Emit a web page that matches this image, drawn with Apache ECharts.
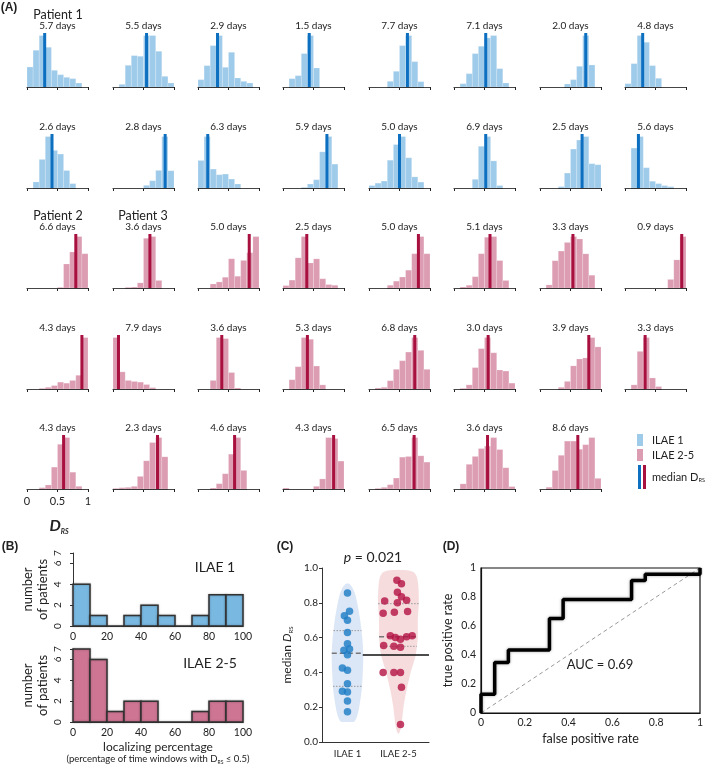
<!DOCTYPE html>
<html>
<head>
<meta charset="utf-8">
<script src="https://cdn.jsdelivr.net/npm/echarts@6/dist/echarts.min.js"></script>
<style>
  html, body { margin: 0; padding: 0; background: #fff; }
  #main { width: 709px; height: 768px; }
</style>
</head>
<body>
<div id="main"></div>
<script>
// ---- panel A: D_RS histograms, 10 bins on 0..1 (heights, relative units)
const binEdges = [0, 0.1, 0.2, 0.3, 0.4, 0.5, 0.6, 0.7, 0.8, 0.9, 1.0];

const ilae1Days = ['5.7', '5.5', '2.9', '1.5', '7.7', '7.1', '2.0', '4.8',
                   '2.6', '2.8', '6.3', '5.9', '5.0', '6.9', '2.5', '5.6'];
const ilae1Median = [0.29, 0.55, 0.32, 0.43, 0.63, 0.52, 0.75, 0.29,
                     0.41, 0.855, 0.16, 0.72, 0.50, 0.52, 0.69, 0.22];
const ilae1Hist = [
  [60, 110, 154, 119, 50, 37, 29, 25, 12, 0],
  [0, 8, 65, 94, 92, 154, 154, 107, 32, 12],
  [22, 64, 124, 154, 59, 104, 27, 17, 12, 0],
  [0, 25, 34, 100, 154, 57, 0, 0, 0, 0],
  [0, 0, 0, 17, 47, 124, 154, 76, 16, 0],
  [0, 10, 40, 100, 122, 147, 154, 55, 12, 0],
  [0, 0, 0, 0, 9, 22, 62, 154, 66, 0],
  [10, 70, 154, 134, 64, 26, 0, 0, 0, 0],
  [0, 18, 85, 153, 112, 101, 52, 13, 0, 0],
  [0, 0, 0, 0, 0, 8, 22, 53, 155, 52],
  [83, 155, 57, 40, 42, 27, 12, 0, 0, 0],
  [0, 0, 0, 2, 12, 25, 109, 155, 72, 0],
  [7, 14, 20, 80, 125, 148, 87, 32, 17, 0],
  [0, 0, 0, 25, 120, 148, 78, 7, 0, 0],
  [0, 0, 0, 4, 43, 112, 138, 148, 70, 67],
  [0, 118, 152, 60, 20, 13, 7, 4, 0, 0]
];

const ilae25Days = ['6.6', '3.6', '5.0', '2.5', '5.0', '5.1', '3.3', '0.9',
                    '4.3', '7.9', '3.6', '5.3', '6.8', '3.0', '3.9', '3.3',
                    '4.3', '2.3', '4.6', '4.3', '6.5', '3.6', '8.6'];
const ilae25Median = [0.80, 0.605, 0.84, 0.39, 0.81, 0.59, 0.54, 0.93,
                      0.90, 0.09, 0.39, 0.40, 0.75, 0.56, 0.80, 0.33,
                      0.60, 0.73, 0.60, 0.83, 0.74, 0.55, 0.62];
const ilae25Hist = [
  [0, 0, 0, 0, 0, 2, 70, 105, 150, 100],
  [0, 0, 2, 3, 15, 145, 150, 22, 0, 0],
  [0, 0, 12, 18, 32, 87, 35, 82, 105, 153],
  [7, 23, 88, 150, 73, 85, 27, 10, 8, 0],
  [0, 0, 0, 8, 20, 32, 52, 100, 150, 100],
  [0, 3, 8, 33, 100, 148, 150, 80, 22, 0],
  [0, 9, 79, 107, 132, 149, 142, 99, 37, 0],
  [0, 0, 0, 0, 0, 0, 0, 25, 82, 150],
  [0, 0, 2, 5, 10, 20, 17, 25, 40, 150],
  [150, 50, 25, 22, 20, 13, 4, 0, 0, 0],
  [0, 0, 25, 150, 147, 48, 3, 0, 0, 0],
  [0, 27, 65, 150, 145, 67, 12, 0, 0, 0],
  [0, 3, 5, 24, 57, 82, 107, 149, 112, 57],
  [0, 2, 12, 62, 117, 149, 105, 55, 52, 17],
  [0, 0, 0, 5, 22, 67, 87, 90, 149, 122],
  [0, 12, 109, 149, 32, 7, 0, 0, 0, 0],
  [0, 0, 4, 12, 65, 133, 153, 50, 8, 0],
  [2, 4, 5, 8, 38, 85, 140, 155, 97, 0],
  [0, 0, 3, 16, 46, 105, 155, 56, 0, 0],
  [3, 0, 0, 0, 0, 8, 30, 153, 150, 83],
  [0, 2, 5, 13, 33, 96, 98, 155, 100, 81],
  [0, 15, 72, 95, 118, 125, 150, 115, 62, 7],
  [0, 5, 52, 95, 135, 135, 112, 125, 145, 30]
];

// ---- panel B: localizing percentage histograms
const locEdges = [0, 10, 20, 30, 40, 50, 60, 70, 80, 90, 100];
const locIlae1 = [4, 1, 0, 1, 2, 1, 0, 1, 3, 3];
const locIlae25 = [7, 6, 1, 2, 2, 0, 0, 1, 2, 2];

// ---- panel C: median D_RS per patient (x jitter in group units)
const medIlae1 = [0.856, 0.751, 0.726, 0.699, 0.630, 0.565, 0.534, 0.527,
                  0.502, 0.425, 0.412, 0.335, 0.291, 0.287, 0.236, 0.174];
const jitIlae1 = [0, 0.04, -0.06, 0, 0, 0, 0.04, -0.07,
                  0, -0.1, 0, 0, -0.1, 0, 0, 0];
const medIlae25 = [0.93, 0.91, 0.86, 0.835, 0.81, 0.80, 0.815, 0.75, 0.74, 0.745,
                   0.61, 0.60, 0.59, 0.605, 0.61, 0.555, 0.55, 0.545,
                   0.40, 0.40, 0.40, 0.315, 0.10];
const jitIlae25 = [-0.03, 0.06, -0.02, 0.06, -0.27, -0.02, 0.16, 0.18, -0.3, -0.08,
                   -0.16, -0.06, 0.04, 0.16, 0.27, -0.29, -0.09, 0.04,
                   -0.3, -0.09, 0.04, 0.06, 0.04];
// violin outlines: [D_RS, half width]
const violinIlae1 = [[0.115, 0], [0.117, 0.13], [0.15, 0.19], [0.2, 0.23], [0.3, 0.28],
  [0.4, 0.30], [0.5, 0.31], [0.6, 0.29], [0.7, 0.25], [0.8, 0.19], [0.85, 0.15],
  [0.88, 0.11], [0.905, 0.05], [0.912, 0]];
const violinIlae25 = [[0.045, 0], [0.06, 0.03], [0.1, 0.06], [0.2, 0.1], [0.3, 0.16],
  [0.4, 0.24], [0.5, 0.34], [0.6, 0.38], [0.7, 0.38], [0.8, 0.4], [0.9, 0.39],
  [0.95, 0.36], [0.975, 0.3], [0.985, 0.2], [0.99, 0]];
const quartIlae1 = [0.32, 0.51, 0.64];
const quartIlae25 = [0.55, 0.605, 0.795];

// ---- panel D: ROC curve
const rocFpr = [0, 0, 0.0625, 0.0625, 0.125, 0.125, 0.3125, 0.3125, 0.375, 0.375,
                0.6875, 0.6875, 0.75, 0.75, 1, 1];
const rocTpr = [0, 0.13, 0.13, 0.348, 0.348, 0.435, 0.435, 0.652, 0.652, 0.783,
                0.783, 0.913, 0.913, 0.957, 0.957, 1];

const FONT = 'Lato, "Open Sans", sans-serif';
const TXT = '#222';
const BLUE_BAR = '#9fcbea', BLUE_MED = '#0d6fc0';
const PINK_BAR = '#dc9cb2', PINK_MED = '#a8103f';

const chart = echarts.init(document.getElementById('main'));

const grids = [], xAxes = [], yAxes = [], series = [], graphics = [];

function label(x, y, text, size, opts) {
  graphics.push({
    type: 'text', x: x, y: y, silent: true,
    style: Object.assign({
      text: text, fill: TXT, font: size + 'px ' + FONT,
      align: 'center', verticalAlign: 'middle'
    }, opts || {})
  });
}

function rectItem(params, api) {
  const a = api.coord([api.value(0), api.value(2)]);
  const b = api.coord([api.value(1), 0]);
  return {
    type: 'rect',
    shape: { x: a[0], y: a[1], width: b[0] - a[0], height: b[1] - a[1] },
    style: api.style()
  };
}

// ---------- panel A ----------
const colLeft = [27, 113, 198, 283, 369, 454, 540, 625];
const rowBase = [87, 188, 288, 389, 489];
const cellW = 61, cellH = 54;

const panels = [];
ilae1Hist.forEach((h, i) => panels.push({ hist: h, med: ilae1Median[i], days: ilae1Days[i], bar: BLUE_BAR, line: BLUE_MED }));
ilae25Hist.forEach((h, i) => panels.push({ hist: h, med: ilae25Median[i], days: ilae25Days[i], bar: PINK_BAR, line: PINK_MED }));

panels.forEach((p, k) => {
  const row = Math.floor(k / 8), col = k % 8;
  const g = grids.length;
  const ymax = Math.max.apply(null, p.hist) * 1.05;
  grids.push({ left: colLeft[col], top: rowBase[row] - cellH, width: cellW, height: cellH });
  xAxes.push({
    gridIndex: g, type: 'value', min: 0, max: 1, interval: 0.5,
    axisLine: { show: true, lineStyle: { color: '#222', width: 1 } },
    axisTick: { show: true, length: 3, lineStyle: { color: '#222' } },
    axisLabel: { show: k === 32, fontSize: 11, color: TXT, fontFamily: FONT, margin: 7 },
    splitLine: { show: false }
  });
  yAxes.push({ gridIndex: g, type: 'value', min: 0, max: ymax, show: false });
  series.push({
    type: 'custom', xAxisIndex: g, yAxisIndex: g, renderItem: rectItem,
    itemStyle: { color: p.bar, borderColor: 'rgba(255,255,255,0.35)', borderWidth: 0.5 },
    encode: { x: [0, 1], y: 2 },
    data: p.hist.map((h, i) => [binEdges[i], binEdges[i + 1], h])
  });
  series.push({
    type: 'line', xAxisIndex: g, yAxisIndex: g, symbol: 'none', z: 3,
    lineStyle: { color: p.line, width: 3 },
    data: [[p.med, 0], [p.med, ymax]]
  });
  label(colLeft[col] + cellW / 2, rowBase[row] - 61, p.days + ' days', 10);
});

label(58, 15, 'Patient 1', 12.5);
label(58, 216, 'Patient 2', 12.5);
label(143, 216, 'Patient 3', 12.5);
label(9, 8, '(A)', 12, { font: 'bold 12px Arial, sans-serif' });

graphics.push({
  type: 'text', x: 59, y: 526, silent: true,
  style: {
    text: '{d|D}{s|RS}', align: 'center', verticalAlign: 'middle',
    rich: {
      d: { fontSize: 16, fontWeight: 'bold', fontStyle: 'italic', fontFamily: FONT, fill: TXT, lineHeight: 18 },
      s: { fontSize: 7, fontWeight: 'bold', fontStyle: 'italic', fontFamily: FONT, fill: TXT, lineHeight: 7, verticalAlign: 'bottom' }
    }
  }
});

// legend
graphics.push({ type: 'rect', shape: { x: 637, y: 434, width: 6, height: 12 }, style: { fill: BLUE_BAR }, silent: true });
graphics.push({ type: 'rect', shape: { x: 637, y: 449, width: 6, height: 12 }, style: { fill: PINK_BAR }, silent: true });
graphics.push({ type: 'rect', shape: { x: 638, y: 465, width: 3, height: 24 }, style: { fill: BLUE_MED }, silent: true });
graphics.push({ type: 'rect', shape: { x: 643, y: 465, width: 3, height: 24 }, style: { fill: PINK_MED }, silent: true });
label(652, 440, 'ILAE 1', 11, { align: 'left' });
label(652, 455, 'ILAE 2-5', 11, { align: 'left' });
graphics.push({
  type: 'text', x: 652, y: 477, silent: true,
  style: {
    text: '{m|median D}{s|RS}', align: 'left', verticalAlign: 'middle',
    rich: {
      m: { fontSize: 11, fontFamily: FONT, fill: TXT, lineHeight: 13 },
      s: { fontSize: 5.5, fontFamily: FONT, fill: TXT, lineHeight: 6, verticalAlign: 'bottom' }
    }
  }
});

// ---------- panel B ----------
function locPanel(top, counts, fill, name, nameX) {
  const g = grids.length;
  grids.push({ left: 73, top: top, width: 170, height: 73 });
  xAxes.push({
    gridIndex: g, type: 'value', min: 0, max: 100, interval: 20,
    axisLine: { show: true, lineStyle: { color: '#333', width: 1 } },
    axisTick: { show: false },
    axisLabel: { fontSize: 10.5, color: TXT, fontFamily: FONT, margin: 5 },
    splitLine: { show: false }
  });
  yAxes.push({
    gridIndex: g, type: 'value', min: 0, max: 7, interval: 2, offset: 6,
    axisLine: { show: true, lineStyle: { color: '#333', width: 1 } },
    axisTick: { show: true, length: 3, lineStyle: { color: '#333' } },
    axisLabel: { fontSize: 10, color: TXT, fontFamily: FONT, rotate: 90, margin: 4 },
    splitLine: { show: false },
    name: 'number\nof patients', nameLocation: 'middle', nameRotate: 90, nameGap: 17,
    nameTextStyle: { fontSize: 13, color: TXT, fontFamily: FONT, lineHeight: 15 }
  });
  series.push({
    type: 'custom', xAxisIndex: g, yAxisIndex: g, renderItem: rectItem,
    itemStyle: { color: fill, borderColor: '#333', borderWidth: 1.5, shadowColor: 'rgba(0,0,0,0.3)', shadowBlur: 2 },
    encode: { x: [0, 1], y: 2 },
    data: counts.map((c, i) => [locEdges[i], locEdges[i + 1], c])
  });
  label(nameX, top + 14, name, 14);
}
locPanel(553, locIlae1, '#79b8e0', 'ILAE 1', 215);
locPanel(649, locIlae25, '#cd7592', 'ILAE 2-5', 210);
label(10, 547, '(B)', 12, { font: 'bold 12px Arial, sans-serif' });
label(158, 747, 'localizing percentage', 12);
graphics.push({
  type: 'text', x: 158, y: 759, silent: true,
  style: {
    text: '{n|(percentage of time windows with D}{s|RS}{n| \u2264 0.5)}', align: 'center', verticalAlign: 'middle',
    rich: {
      n: { fontSize: 9.5, fontFamily: FONT, fill: TXT, lineHeight: 12 },
      s: { fontSize: 5, fontFamily: FONT, fill: TXT, lineHeight: 5, verticalAlign: 'bottom' }
    }
  }
});

// ---------- panel C ----------
function interpWidth(profile, y) {
  for (let i = 1; i < profile.length; i++) {
    if (y <= profile[i][0]) {
      const a = profile[i - 1], b = profile[i];
      return a[1] + (b[1] - a[1]) * (y - a[0]) / (b[0] - a[0]);
    }
  }
  return 0;
}
function violinRender(profile, fill) {
  return function (params, api) {
    const c = api.value(0);
    const pts = profile.map(p => api.coord([c + p[1], p[0]]));
    for (let i = profile.length - 1; i >= 0; i--) pts.push(api.coord([c - profile[i][1], profile[i][0]]));
    return { type: 'polygon', shape: { points: pts, smooth: 0.25 }, style: { fill: fill } };
  };
}
function hlineRender(params, api) {
  const c = api.value(0), y = api.value(1), w = api.value(2);
  const a = api.coord([c - w, y]), b = api.coord([c + w, y]);
  const dashed = api.value(3) === 1;
  return {
    type: 'line', shape: { x1: a[0], y1: a[1], x2: b[0], y2: b[1] },
    style: { stroke: dashed ? '#777' : '#999', lineWidth: dashed ? 1.3 : 1, lineDash: dashed ? [5, 3] : [1.5, 1.5] }
  };
}
const gC = grids.length;
grids.push({ left: 322, top: 568, width: 107, height: 174 });
xAxes.push({
  gridIndex: gC, type: 'value', min: 0.5, max: 2.6, interval: 0.5,
  axisLine: { show: true, lineStyle: { color: '#333', width: 1 } },
  axisTick: { show: false },
  axisLabel: { fontSize: 9.5, color: TXT, fontFamily: FONT, margin: 7,
    formatter: v => (v === 1 ? 'ILAE 1' : v === 2 ? 'ILAE 2-5' : '') },
  splitLine: { show: false }
});
yAxes.push({
  gridIndex: gC, type: 'value', min: 0, max: 1, interval: 0.2,
  axisLine: { show: true, lineStyle: { color: '#333', width: 1 } },
  axisTick: { show: true, length: 3, lineStyle: { color: '#333' } },
  axisLabel: { fontSize: 10, color: TXT, fontFamily: FONT, margin: 4, formatter: v => v.toFixed(1) },
  splitLine: { show: false },
  name: '{m|median }{d|D}{s|RS}', nameLocation: 'middle', nameRotate: 90, nameGap: 28,
  nameTextStyle: {
    rich: {
      m: { fontSize: 12, fontFamily: FONT, color: TXT, lineHeight: 14 },
      d: { fontSize: 12, fontFamily: FONT, color: TXT, fontStyle: 'italic', lineHeight: 14 },
      s: { fontSize: 6, fontFamily: FONT, color: TXT, lineHeight: 6, verticalAlign: 'bottom' }
    }
  }
});
series.push({ type: 'custom', xAxisIndex: gC, yAxisIndex: gC, z: 1, renderItem: violinRender(violinIlae1, '#dbe6f6'), data: [[1, 0.5]] });
series.push({ type: 'custom', xAxisIndex: gC, yAxisIndex: gC, z: 1, renderItem: violinRender(violinIlae25, '#f6dcdd'), data: [[2, 0.5]] });
series.push({
  type: 'line', xAxisIndex: gC, yAxisIndex: gC, z: 2, symbol: 'none',
  lineStyle: { color: '#111', width: 1.5 }, data: [[1.3, 0.5], [2.6, 0.5]]
});
series.push({
  type: 'custom', xAxisIndex: gC, yAxisIndex: gC, z: 3, renderItem: hlineRender,
  data: quartIlae1.map((q, i) => [1, q, interpWidth(violinIlae1, q), i === 1 ? 1 : 0])
    .concat(quartIlae25.map((q, i) => [2, q, interpWidth(violinIlae25, q), i === 1 ? 1 : 0]))
});
series.push({
  type: 'scatter', xAxisIndex: gC, yAxisIndex: gC, z: 4, symbolSize: 7.5,
  itemStyle: { color: '#1b7cc5' },
  data: medIlae1.map((v, i) => [1 + jitIlae1[i], v])
});
series.push({
  type: 'scatter', xAxisIndex: gC, yAxisIndex: gC, z: 4, symbolSize: 7.5,
  itemStyle: { color: '#b41244' },
  data: medIlae25.map((v, i) => [2 + jitIlae25[i], v])
});
label(285, 547, '(C)', 12, { font: 'bold 12px Arial, sans-serif' });
graphics.push({
  type: 'text', x: 373, y: 557, silent: true,
  style: {
    text: '{i|p}{n| = 0.021}', align: 'center', verticalAlign: 'middle',
    rich: {
      i: { fontSize: 14, fontStyle: 'italic', fontFamily: FONT, fill: TXT },
      n: { fontSize: 14, fontFamily: FONT, fill: TXT }
    }
  }
});

// ---------- panel D ----------
const gD = grids.length;
grids.push({ left: 481, top: 568, width: 219, height: 145, show: true, borderColor: '#111', borderWidth: 1.2 });
const rocFmt = v => (v === 0 || v === 1 ? String(v) : v.toFixed(1));
xAxes.push({
  gridIndex: gD, type: 'value', min: 0, max: 1, interval: 0.2,
  axisLine: { show: true, lineStyle: { color: '#111', width: 1.2 } },
  axisTick: { show: false },
  axisLabel: { fontSize: 10.5, color: TXT, fontFamily: FONT, margin: 4, formatter: rocFmt },
  splitLine: { show: false },
  name: 'false positive rate', nameLocation: 'middle', nameGap: 19,
  nameTextStyle: { fontSize: 12.5, color: TXT, fontFamily: FONT }
});
yAxes.push({
  gridIndex: gD, type: 'value', min: 0, max: 1, interval: 0.2,
  axisLine: { show: true, lineStyle: { color: '#111', width: 1.2 } },
  axisTick: { show: false },
  axisLabel: { fontSize: 10.5, color: TXT, fontFamily: FONT, margin: 5, formatter: rocFmt },
  splitLine: { show: false },
  name: 'true positive rate', nameLocation: 'middle', nameRotate: 90, nameGap: 27,
  nameTextStyle: { fontSize: 12.5, color: TXT, fontFamily: FONT }
});
series.push({
  type: 'line', xAxisIndex: gD, yAxisIndex: gD, symbol: 'none', z: 2,
  lineStyle: { color: '#999', width: 1, type: [4, 3] },
  data: [[0, 0], [1, 1]]
});
series.push({
  type: 'line', xAxisIndex: gD, yAxisIndex: gD, symbol: 'none', z: 3,
  lineStyle: { color: '#000', width: 3.5, shadowColor: 'rgba(0,0,0,0.35)', shadowBlur: 3 },
  data: rocFpr.map((f, i) => [f, rocTpr[i]])
});
label(451, 547, '(D)', 12, { font: 'bold 12px Arial, sans-serif' });
label(600, 665, 'AUC = 0.69', 13);

chart.setOption({
  animation: false,
  backgroundColor: '#fff',
  grid: grids,
  xAxis: xAxes,
  yAxis: yAxes,
  series: series,
  graphic: graphics
});
</script>
</body>
</html>
